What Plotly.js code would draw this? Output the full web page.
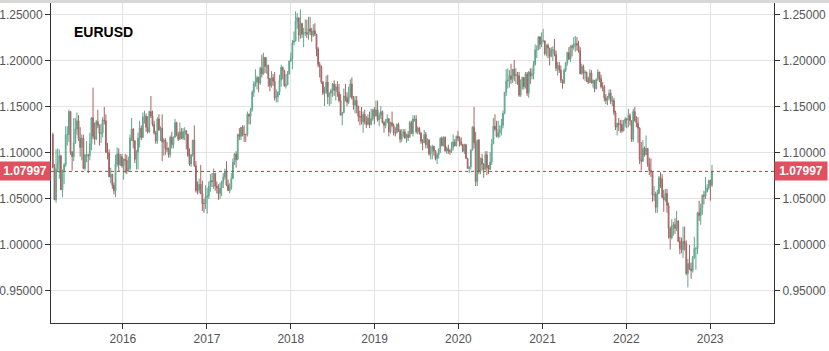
<!DOCTYPE html>
<html>
<head>
<meta charset="utf-8">
<script src="https://cdn.plot.ly/plotly-3.0.1.min.js"></script>
<style>html,body{margin:0;padding:0;background:#fff;}#chart{width:829px;height:351px;}</style>
</head>
<body>
<div id="chart"></div>
<script>
// Weekly EURUSD candles, week starting 2015-03-02 (Mondays), one value per week.
const firstWeek = '2015-03-02';
const firstOpen = 1.120;
const closes = [
// 2015
1.084,1.049,1.082,1.089,1.097,1.060,1.081,1.087,1.120,1.120,1.145,1.101,1.096,1.111,1.126,1.135,1.116,1.106,1.116,1.083,1.098,1.098,1.097,1.110,1.138,1.118,1.115,1.134,1.130,1.121,1.122,1.136,1.135,1.101,1.100,1.074,1.077,1.065,1.059,1.088,1.099,1.087,1.096,1.086,
// 2016
1.093,1.092,1.080,1.083,1.116,1.126,1.113,1.093,1.101,1.116,1.127,1.117,1.139,1.140,1.128,1.123,1.145,1.140,1.131,1.122,1.113,1.137,1.125,1.127,1.112,1.114,1.105,1.104,1.098,1.117,1.109,1.117,1.133,1.120,1.115,1.123,1.116,1.123,1.124,1.120,1.097,1.088,1.098,1.114,1.086,1.059,1.059,1.066,1.056,1.045,1.045,1.052,
// 2017
1.053,1.064,1.070,1.069,1.078,1.064,1.062,1.056,1.062,1.067,1.074,1.080,1.065,1.059,1.062,1.072,1.090,1.099,1.093,1.120,1.118,1.128,1.120,1.120,1.120,1.142,1.140,1.147,1.166,1.175,1.177,1.182,1.176,1.192,1.186,1.204,1.194,1.195,1.181,1.173,1.182,1.178,1.160,1.161,1.166,1.179,1.193,1.190,1.173,1.174,1.186,1.200,
// 2018
1.203,1.220,1.222,1.243,1.247,1.228,1.241,1.229,1.231,1.231,1.229,1.235,1.232,1.228,1.233,1.229,1.213,1.196,1.194,1.177,1.165,1.166,1.177,1.161,1.165,1.168,1.175,1.168,1.172,1.166,1.157,1.141,1.144,1.162,1.160,1.155,1.162,1.175,1.160,1.152,1.157,1.151,1.140,1.139,1.134,1.142,1.134,1.131,1.138,1.131,1.137,1.147,1.140,
// 2019
1.147,1.136,1.141,1.145,1.133,1.130,1.133,1.137,1.123,1.133,1.130,1.122,1.122,1.131,1.124,1.115,1.120,1.123,1.116,1.120,1.117,1.133,1.121,1.137,1.137,1.123,1.127,1.122,1.113,1.111,1.120,1.109,1.114,1.099,1.103,1.107,1.102,1.094,1.098,1.104,1.116,1.108,1.117,1.102,1.105,1.102,1.102,1.106,1.112,1.108,1.118,1.116,
// 2020
1.112,1.109,1.102,1.109,1.094,1.083,1.085,1.103,1.128,1.111,1.069,1.114,1.080,1.094,1.088,1.082,1.098,1.084,1.082,1.090,1.110,1.129,1.126,1.118,1.122,1.125,1.130,1.143,1.166,1.178,1.179,1.184,1.180,1.191,1.184,1.185,1.184,1.163,1.172,1.182,1.172,1.186,1.165,1.188,1.184,1.186,1.196,1.212,1.212,1.226,1.218,1.222,
// 2021
1.222,1.208,1.217,1.214,1.205,1.212,1.212,1.207,1.192,1.195,1.190,1.179,1.176,1.190,1.198,1.209,1.202,1.216,1.215,1.218,1.219,1.217,1.211,1.186,1.194,1.187,1.188,1.181,1.177,1.187,1.176,1.179,1.170,1.180,1.188,1.181,1.172,1.172,1.160,1.157,1.160,1.165,1.156,1.157,1.144,1.128,1.132,1.131,1.131,1.124,1.132,1.137,
// 2022
1.136,1.141,1.135,1.115,1.145,1.135,1.132,1.127,1.093,1.091,1.105,1.098,1.105,1.088,1.081,1.079,1.054,1.055,1.041,1.056,1.073,1.072,1.052,1.049,1.056,1.043,1.018,1.008,1.021,1.022,1.018,1.026,1.004,0.996,0.995,1.004,1.001,0.969,0.980,0.974,0.972,0.986,0.996,0.996,1.035,1.032,1.040,1.054,1.053,1.058,1.062,1.070,
// 2023
1.065,1.07997
];
const highs = [
// 2015
1.122,1.088,1.104,1.105,1.104,1.098,1.082,1.089,1.129,1.129,1.147,1.145,1.102,1.138,1.138,1.144,1.141,1.128,1.120,1.120,1.099,1.113,1.099,1.122,1.139,1.171,1.133,1.136,1.147,1.131,1.132,1.139,1.150,1.142,1.111,1.104,1.084,1.077,1.068,1.098,1.106,1.105,1.099,1.099,
// 2016
1.094,1.099,1.098,1.096,1.120,1.138,1.127,1.114,1.103,1.122,1.135,1.130,1.144,1.146,1.143,1.140,1.146,1.162,1.146,1.135,1.124,1.139,1.142,1.129,1.142,1.116,1.116,1.112,1.106,1.119,1.123,1.118,1.137,1.134,1.123,1.133,1.127,1.127,1.128,1.125,1.121,1.105,1.099,1.114,1.130,1.091,1.069,1.072,1.087,1.070,1.050,1.065,
// 2017
1.062,1.069,1.077,1.078,1.083,1.078,1.069,1.066,1.068,1.070,1.078,1.083,1.091,1.071,1.067,1.078,1.094,1.100,1.102,1.121,1.127,1.128,1.130,1.130,1.121,1.145,1.143,1.149,1.168,1.178,1.191,1.184,1.183,1.194,1.207,1.209,1.204,1.204,1.196,1.180,1.189,1.186,1.188,1.169,1.167,1.185,1.196,1.194,1.190,1.186,1.189,1.200,
// 2018
1.209,1.223,1.232,1.254,1.252,1.247,1.256,1.241,1.236,1.245,1.245,1.248,1.248,1.236,1.240,1.241,1.229,1.215,1.199,1.195,1.178,1.172,1.184,1.185,1.166,1.170,1.176,1.179,1.175,1.178,1.175,1.164,1.144,1.170,1.175,1.166,1.172,1.180,1.182,1.162,1.162,1.162,1.150,1.146,1.150,1.145,1.147,1.140,1.142,1.145,1.148,1.148,1.150,
// 2019
1.157,1.157,1.144,1.151,1.146,1.135,1.137,1.142,1.138,1.134,1.145,1.132,1.128,1.132,1.133,1.126,1.126,1.126,1.126,1.121,1.124,1.135,1.135,1.141,1.141,1.141,1.129,1.128,1.122,1.115,1.125,1.123,1.116,1.115,1.108,1.109,1.108,1.103,1.100,1.105,1.117,1.118,1.118,1.118,1.107,1.109,1.104,1.112,1.120,1.115,1.119,1.124,
// 2020
1.118,1.117,1.110,1.110,1.110,1.095,1.085,1.104,1.129,1.150,1.123,1.114,1.115,1.095,1.099,1.089,1.102,1.102,1.087,1.101,1.115,1.138,1.142,1.135,1.135,1.130,1.137,1.146,1.166,1.191,1.192,1.190,1.197,1.191,1.201,1.192,1.188,1.188,1.180,1.183,1.181,1.188,1.188,1.189,1.192,1.192,1.200,1.218,1.217,1.227,1.227,1.231,
// 2021
1.235,1.222,1.218,1.219,1.214,1.215,1.216,1.224,1.211,1.199,1.199,1.195,1.180,1.192,1.199,1.210,1.215,1.217,1.218,1.226,1.227,1.226,1.222,1.215,1.197,1.196,1.190,1.188,1.183,1.191,1.190,1.180,1.179,1.181,1.191,1.188,1.185,1.177,1.174,1.164,1.162,1.169,1.169,1.162,1.160,1.146,1.133,1.138,1.136,1.136,1.136,1.139,
// 2022
1.138,1.148,1.143,1.135,1.148,1.150,1.140,1.139,1.128,1.112,1.114,1.107,1.119,1.105,1.095,1.094,1.080,1.064,1.058,1.060,1.075,1.079,1.077,1.060,1.061,1.061,1.046,1.020,1.028,1.025,1.029,1.037,1.027,1.009,1.008,1.020,1.020,1.005,0.985,1.000,0.981,0.988,1.009,0.998,1.036,1.048,1.045,1.055,1.059,1.074,1.066,1.071,
// 2023
1.071,1.087
];
const lows = [
// 2015
1.084,1.049,1.046,1.080,1.072,1.060,1.052,1.066,1.085,1.108,1.112,1.098,1.081,1.091,1.110,1.120,1.113,1.096,1.092,1.083,1.081,1.090,1.078,1.092,1.103,1.115,1.109,1.114,1.127,1.108,1.111,1.117,1.131,1.100,1.093,1.074,1.067,1.061,1.055,1.052,1.085,1.080,1.086,1.084,
// 2016
1.071,1.078,1.077,1.080,1.081,1.113,1.105,1.089,1.082,1.082,1.106,1.114,1.116,1.132,1.123,1.121,1.122,1.138,1.129,1.120,1.110,1.110,1.124,1.113,1.091,1.097,1.098,1.101,1.095,1.095,1.105,1.105,1.117,1.118,1.113,1.114,1.115,1.114,1.114,1.104,1.096,1.086,1.085,1.096,1.085,1.057,1.055,1.056,1.055,1.037,1.035,1.039,
// 2017
1.034,1.050,1.058,1.063,1.061,1.059,1.056,1.049,1.050,1.053,1.062,1.071,1.064,1.059,1.056,1.060,1.072,1.087,1.084,1.092,1.114,1.114,1.118,1.112,1.112,1.118,1.131,1.131,1.145,1.161,1.172,1.169,1.166,1.174,1.182,1.185,1.187,1.186,1.172,1.167,1.171,1.173,1.157,1.155,1.155,1.163,1.172,1.180,1.172,1.170,1.174,1.185,
// 2018
1.199,1.191,1.217,1.221,1.235,1.221,1.224,1.225,1.215,1.227,1.225,1.223,1.228,1.221,1.226,1.227,1.205,1.193,1.182,1.175,1.163,1.151,1.164,1.153,1.151,1.153,1.161,1.162,1.157,1.161,1.155,1.141,1.130,1.143,1.156,1.151,1.153,1.160,1.158,1.147,1.143,1.143,1.134,1.130,1.131,1.122,1.131,1.127,1.130,1.127,1.130,1.135,1.131,
// 2019
1.140,1.134,1.129,1.137,1.132,1.122,1.127,1.133,1.118,1.121,1.128,1.119,1.118,1.121,1.123,1.111,1.112,1.117,1.116,1.111,1.113,1.117,1.121,1.118,1.134,1.121,1.120,1.120,1.110,1.103,1.111,1.105,1.105,1.097,1.093,1.093,1.097,1.092,1.088,1.094,1.100,1.107,1.107,1.102,1.099,1.099,1.098,1.100,1.103,1.107,1.107,1.113,
// 2020
1.107,1.108,1.101,1.099,1.094,1.083,1.078,1.082,1.103,1.105,1.064,1.064,1.077,1.077,1.081,1.073,1.082,1.076,1.077,1.082,1.087,1.110,1.124,1.117,1.116,1.117,1.119,1.127,1.142,1.162,1.170,1.171,1.175,1.176,1.178,1.175,1.174,1.161,1.161,1.169,1.169,1.170,1.162,1.160,1.175,1.180,1.180,1.195,1.203,1.212,1.213,1.215,
// 2021
1.220,1.206,1.205,1.203,1.195,1.204,1.200,1.205,1.189,1.184,1.187,1.176,1.170,1.175,1.188,1.195,1.201,1.199,1.205,1.212,1.210,1.211,1.209,1.186,1.185,1.180,1.178,1.177,1.175,1.176,1.176,1.171,1.166,1.169,1.178,1.177,1.170,1.167,1.156,1.153,1.152,1.158,1.153,1.151,1.141,1.125,1.119,1.124,1.122,1.122,1.127,1.128,
// 2022
1.127,1.128,1.130,1.112,1.112,1.134,1.128,1.111,1.088,1.081,1.090,1.096,1.098,1.085,1.076,1.074,1.047,1.048,1.035,1.035,1.055,1.062,1.051,1.036,1.047,1.035,1.007,0.995,1.006,1.010,1.012,1.015,1.003,0.990,0.991,0.986,0.994,0.967,0.954,0.973,0.963,0.970,0.985,0.973,0.990,1.026,1.022,1.033,1.044,1.050,1.057,1.060,
// 2023
1.048,1.063
];
const lastPrice = 1.07997;
const lastPriceLabel = '1.07997';
const symbol = 'EURUSD';
const yearTicks = ['2016-01-01','2017-01-01','2018-01-01','2019-01-01','2020-01-01','2021-01-01','2022-01-01','2023-01-01'];
const yearLabels = ['2016','2017','2018','2019','2020','2021','2022','2023'];
const priceTicks = [0.95,1.00,1.05,1.10,1.15,1.20,1.25];

// weekly dates and opens (each week opens at the previous week's close)
const weeks = [];
const opens = [];
const d0 = new Date(firstWeek + 'T00:00:00Z');
for (let i = 0; i < closes.length; i++) {
  const d = new Date(d0.getTime() + i * 7 * 86400000);
  weeks.push(d.toISOString().slice(0, 10));
  opens.push(i === 0 ? firstOpen : closes[i - 1]);
}

const yRange = [0.9152, 1.2630];
const axisFont = {family: 'Liberation Sans, Arial, sans-serif', size: 12, color: '#555'};

const data = [
  {
    type: 'candlestick', x: weeks, open: opens, high: highs, low: lows, close: closes,
    increasing: {line: {color: '#5ea58c', width: 1}, fillcolor: '#8fcdb3'},
    decreasing: {line: {color: '#a46462', width: 1}, fillcolor: '#d39a9a'},
    whiskerwidth: 0, hoverinfo: 'skip', showlegend: false
  },
  {type: 'scatter', x: [weeks[0]], y: [lastPrice], yaxis: 'y2', mode: 'markers',
   marker: {opacity: 0}, hoverinfo: 'skip', showlegend: false}
];

const layout = {
  width: 829, height: 351,
  margin: {l: 51, r: 55, t: 3, b: 28, pad: 0},
  paper_bgcolor: '#ffffff', plot_bgcolor: '#ffffff',
  showlegend: false,
  xaxis: {
    type: 'date', range: ['2015-02-22', '2023-10-06'],
    rangeslider: {visible: false},
    tickmode: 'array', tickvals: yearTicks, ticktext: yearLabels,
    ticks: 'outside', ticklen: 5, tickcolor: '#333', tickwidth: 1,
    showgrid: true, gridcolor: '#e3e3e3', gridwidth: 1,
    showline: true, linecolor: '#333', linewidth: 1,
    tickfont: axisFont, zeroline: false, fixedrange: true
  },
  yaxis: {
    range: yRange, tickmode: 'array', tickvals: priceTicks, tickformat: '.5f',
    ticks: 'outside', ticklen: 5, tickcolor: '#333', tickwidth: 1,
    showgrid: true, gridcolor: '#e3e3e3', gridwidth: 1,
    showline: true, linecolor: '#333', linewidth: 1,
    tickfont: axisFont, zeroline: false, fixedrange: true
  },
  yaxis2: {
    overlaying: 'y', side: 'right', range: yRange, tickmode: 'array', tickvals: priceTicks, tickformat: '.5f',
    ticks: 'outside', ticklen: 5, tickcolor: '#333', tickwidth: 1,
    showgrid: false, showline: true, linecolor: '#333', linewidth: 1,
    tickfont: axisFont, zeroline: false, fixedrange: true
  },
  shapes: [
    {type: 'line', xref: 'paper', x0: 0, x1: 1, yref: 'y', y0: lastPrice, y1: lastPrice,
     line: {color: '#c23b3b', width: 1, dash: 'dot'}, layer: 'above'},
    {type: 'rect', xref: 'paper', x0: -0.0705, x1: 1.0761, yref: 'paper', y0: 1.0, y1: 1.0094,
     fillcolor: '#d8d8d8', line: {width: 0}, layer: 'below'}
  ],
  annotations: [
    {xref: 'paper', yref: 'paper', x: 0.029, y: 0.909, xanchor: 'left', yanchor: 'middle',
     text: '<b>' + symbol + '</b>', showarrow: false,
     font: {family: 'Liberation Sans, Arial, sans-serif', size: 14, color: '#000'}},
    {xref: 'paper', yref: 'y', x: 0, y: lastPrice, xanchor: 'right', yanchor: 'middle',
     text: '<b>' + lastPriceLabel + '</b>', showarrow: false, bgcolor: '#e0505e',
     width: 46, height: 14, borderpad: 2, align: 'center',
     font: {family: 'Liberation Sans, Arial, sans-serif', size: 12, color: '#fff'}},
    {xref: 'paper', yref: 'y', x: 1, y: lastPrice, xanchor: 'left', yanchor: 'middle',
     text: '<b>' + lastPriceLabel + '</b>', showarrow: false, bgcolor: '#e0505e',
     width: 48, height: 14, borderpad: 2, align: 'center',
     font: {family: 'Liberation Sans, Arial, sans-serif', size: 12, color: '#fff'}}
  ]
};

Plotly.newPlot('chart', data, layout, {staticPlot: true, displayModeBar: false});
</script>
</body>
</html>
